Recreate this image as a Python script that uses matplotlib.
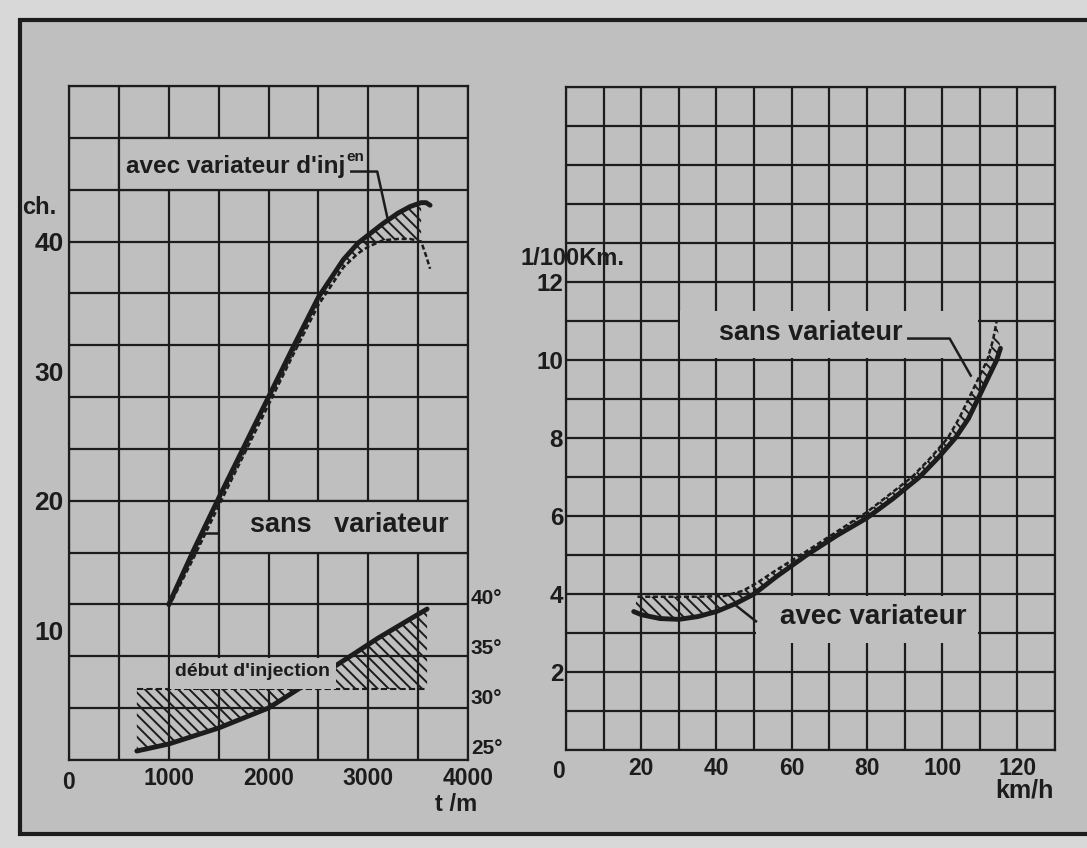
import numpy as np
import matplotlib
matplotlib.use("Agg")
import matplotlib.pyplot as plt
from matplotlib.patches import Rectangle

plt.rcParams["font.family"] = ["Liberation Sans", "DejaVu Sans"]
plt.rcParams["font.weight"] = "bold"
plt.rcParams["hatch.linewidth"] = 1.4

INK = "#1c1c1c"
PAPER = "#bfbfbf"
OUTER = "#d8d8d8"
W, H = 1087, 848

# ── left chart : puissance (ch) / régime (t/m) ──────────────────────────────
rpm = [1000, 1250, 1500, 1750, 2000, 2250, 2500, 2750, 2900, 3000, 3150, 3300, 3420, 3530, 3580, 3620]
ch_avec = [12.0, 16.2, 20.2, 24.1, 28.0, 31.9, 35.7, 38.6, 39.9, 40.5, 41.4, 42.2, 42.7, 43.0, 43.0, 42.8]
ch_sans = [11.8, 15.6, 19.6, 23.5, 27.4, 31.3, 35.1, 38.0, 39.1, 39.6, 40.1, 40.2, 40.2, 40.0, 38.9, 37.9]
hatch_end = 3530

# début d'injection (degrés)
rpm_deb = [680, 1000, 1500, 2000, 2300, 2700, 3100, 3590]
deg_deb = [24.6, 25.3, 26.9, 28.9, 30.8, 33.3, 35.9, 38.8]
deg_fixe = 30.8

left_xticks = list(range(0, 4001, 500))
left_xlabels = ["1000", "2000", "3000", "4000"]
left_ylabels = [10, 20, 30, 40]
deg_labels = [25, 30, 35, 40]

# ── right chart : consommation (l/100 km) / vitesse (km/h) ─────────────────
kmh_avec = [18, 20, 25, 30, 35, 40, 45, 50, 56, 64, 72, 80, 87, 94, 99, 103.5, 107, 109.5, 112, 114.5, 115.5]
cons_avec = [3.55, 3.47, 3.37, 3.35, 3.42, 3.55, 3.75, 4.0, 4.45, 5.0, 5.5, 5.95, 6.45, 7.0, 7.5, 8.0, 8.5, 9.0, 9.5, 10.0, 10.3]
kmh_sans = [19, 25, 35, 42, 47, 51, 56, 64, 72, 80, 86, 92, 97, 101.5, 104.5, 107, 109.5, 112, 113.5, 114.5]
cons_sans = [3.93, 3.93, 3.93, 3.95, 4.08, 4.3, 4.62, 5.1, 5.6, 6.1, 6.55, 7.0, 7.5, 8.0, 8.5, 9.0, 9.5, 10.0, 10.5, 11.0]

right_xlabels = [20, 40, 60, 80, 100, 120]
right_ylabels = [2, 4, 6, 8, 10, 12]


def px(x0, y0, x1, y1):
    return [x0 / W, 1 - y1 / H, (x1 - x0) / W, (y1 - y0) / H]


fig = plt.figure(figsize=(W / 100, H / 100), dpi=100, facecolor=OUTER)
fig.patches.append(Rectangle((20 / W, 1 - 834 / H), 1100 / W, 814 / H,
                             transform=fig.transFigure, facecolor=PAPER,
                             edgecolor=INK, lw=3.0, zorder=-5))

GRID_LW = 1.6
SOLID_LW = 3.5
DASH_LW = 1.8
DASH = (0, (2.0, 1.1))
HATCH = "\\\\\\"


def style_axes(ax):
    ax.set_facecolor("none")
    ax.grid(True, color=INK, lw=GRID_LW)
    ax.set_axisbelow(True)
    for s in ax.spines.values():
        s.set_color(INK)
        s.set_linewidth(GRID_LW)
    ax.tick_params(which="both", length=0, colors=INK)


# ── left panel ──────────────────────────────────────────────────────────────
ax1 = fig.add_axes(px(69, 86, 468, 760))
style_axes(ax1)
ax1.set_xlim(0, 4000)
ax1.set_ylim(0, 52)
ax1.yaxis.remove_overlapping_locs = False
ax1.set_xticks(left_xticks, [str(v) if str(v) in left_xlabels else "" for v in left_xticks])
ax1.set_yticks(np.arange(0, 53, 4), [""] * 14)
ax1.set_yticks(left_ylabels, [str(v) for v in left_ylabels], minor=True)
ax1.tick_params(axis="x", labelsize=16.5, pad=5)
ax1.tick_params(axis="y", which="minor", labelsize=19, pad=4)

# label boxes (grid blanked behind the text)
ax1.add_patch(Rectangle((500, 44), 2500, 4, facecolor=PAPER, edgecolor=INK, lw=GRID_LW, zorder=1))
ax1.add_patch(Rectangle((1500, 16), 2500, 4, facecolor=PAPER, edgecolor=INK, lw=GRID_LW, zorder=1))

k = rpm.index(hatch_end) + 1
ax1.fill(rpm[:k] + rpm[:k][::-1], ch_avec[:k] + ch_sans[:k][::-1],
         facecolor="none", edgecolor=INK, hatch=HATCH, lw=0, zorder=2)
ax1.plot(rpm, ch_sans, color=INK, lw=DASH_LW, ls=DASH, zorder=3)
ax1.plot(rpm, ch_avec, color=INK, lw=SOLID_LW, solid_capstyle="round", zorder=4)

t_avec = ax1.text(570, 45.8, "avec variateur d'inj", fontsize=17.5, ha="left", va="center", color=INK, zorder=5)
ax1.annotate("en", xy=(1, 0.62), xycoords=t_avec, xytext=(1, 0), textcoords="offset points",
             fontsize=11, ha="left", va="bottom", color=INK)
ax1.plot([2830, 3090, 3190], [45.4, 45.4, 41.9], color=INK, lw=1.8, zorder=5)

ax1.text(2810, 18.1, "sans   variateur", fontsize=19.5, ha="center", va="center", color=INK, zorder=5)
ax1.plot([1360, 1490], [17.5, 17.5], color=INK, lw=1.8, zorder=5)

ax1.text(-10, -1.7, "0", fontsize=16.5, ha="center", va="center", color=INK, clip_on=False)
ax1.text(3880, -3.4, "t /m", fontsize=17, ha="center", va="center", color=INK, clip_on=False)
ax1.text(-470, 42.6, "ch.", fontsize=17, ha="left", va="center", color=INK, clip_on=False)

# injection timing on its own degree scale
DEG_LO, DEG_HI = 23.7, 91.1
ax_deg = ax1.twinx()
ax_deg.set_ylim(DEG_LO, DEG_HI)
for s in ax_deg.spines.values():
    s.set_visible(False)
ax_deg.set_yticks(deg_labels, [f"{v}°" for v in deg_labels])
ax_deg.tick_params(axis="y", length=0, labelsize=15, pad=2, colors=INK)

ax_deg.fill(rpm_deb[:5] + [rpm_deb[0]], deg_deb[:5] + [deg_fixe],
            facecolor="none", edgecolor=INK, hatch=HATCH, lw=0, zorder=2)
ax_deg.fill(rpm_deb[4:] + [rpm_deb[-1]], deg_deb[4:] + [deg_fixe],
            facecolor="none", edgecolor=INK, hatch=HATCH, lw=0, zorder=2)
ax_deg.plot([rpm_deb[0], rpm_deb[-1]], [deg_fixe, deg_fixe], color=INK, lw=1.5, ls=(0, (3, 1.5)), zorder=3)
ax_deg.plot(rpm_deb, deg_deb, color=INK, lw=SOLID_LW, solid_capstyle="round", zorder=3)

box_top = DEG_LO + (8 - 0.1) / 52 * (DEG_HI - DEG_LO)
ax_deg.add_patch(Rectangle((1012, deg_fixe), 1660, box_top - deg_fixe,
                           facecolor=PAPER, edgecolor="none", zorder=4))
ax_deg.text(1840, deg_fixe + (box_top - deg_fixe) * 0.55, "début d'injection", fontsize=14,
            ha="center", va="center", color=INK, zorder=5)

# ── right panel ─────────────────────────────────────────────────────────────
ax2 = fig.add_axes(px(566, 87, 1055, 750))
style_axes(ax2)
ax2.set_xlim(0, 130)
ax2.set_ylim(0, 17)
xt = list(range(0, 131, 10))
ax2.set_xticks(xt, [str(v) if v in right_xlabels else "" for v in xt])
yt = list(range(0, 18))
ax2.set_yticks(yt, [str(v) if v in right_ylabels else "" for v in yt])
ax2.tick_params(axis="x", labelsize=16.5, pad=5)
ax2.tick_params(axis="y", labelsize=17.5, pad=2)

ax2.add_patch(Rectangle((30.4, 10.04), 79.2, 1.21, facecolor=PAPER, edgecolor="none", zorder=1))
ax2.add_patch(Rectangle((50.4, 2.75), 59.2, 1.21, facecolor=PAPER, edgecolor="none", zorder=1))

ax2.fill(kmh_avec + kmh_sans[::-1], cons_avec + cons_sans[::-1],
         facecolor="none", edgecolor=INK, hatch=HATCH, lw=0, zorder=2)
ax2.plot(kmh_sans, cons_sans, color=INK, lw=DASH_LW, ls=DASH, zorder=3)
ax2.plot(kmh_avec, cons_avec, color=INK, lw=SOLID_LW, solid_capstyle="round", zorder=4)

ax2.text(65.2, 10.7, "sans variateur", fontsize=19.5, ha="center", va="center", color=INK, zorder=5)
ax2.plot([91, 102, 107.6], [10.55, 10.55, 9.6], color=INK, lw=1.8, zorder=5)
ax2.text(81.6, 3.42, "avec variateur", fontsize=20, ha="center", va="center", color=INK, zorder=5)
ax2.plot([50.5, 45], [3.3, 3.72], color=INK, lw=1.8, zorder=5)

ax2.text(-1.9, -0.56, "0", fontsize=16.5, ha="center", va="center", color=INK, clip_on=False)
ax2.text(122, -1.03, "km/h", fontsize=18, ha="center", va="center", color=INK, clip_on=False)
ax2.text(-12.2, 12.6, "1/100Km.", fontsize=17, ha="left", va="center", color=INK, clip_on=False)

fig.savefig("out.png", dpi=100, facecolor=OUTER)
